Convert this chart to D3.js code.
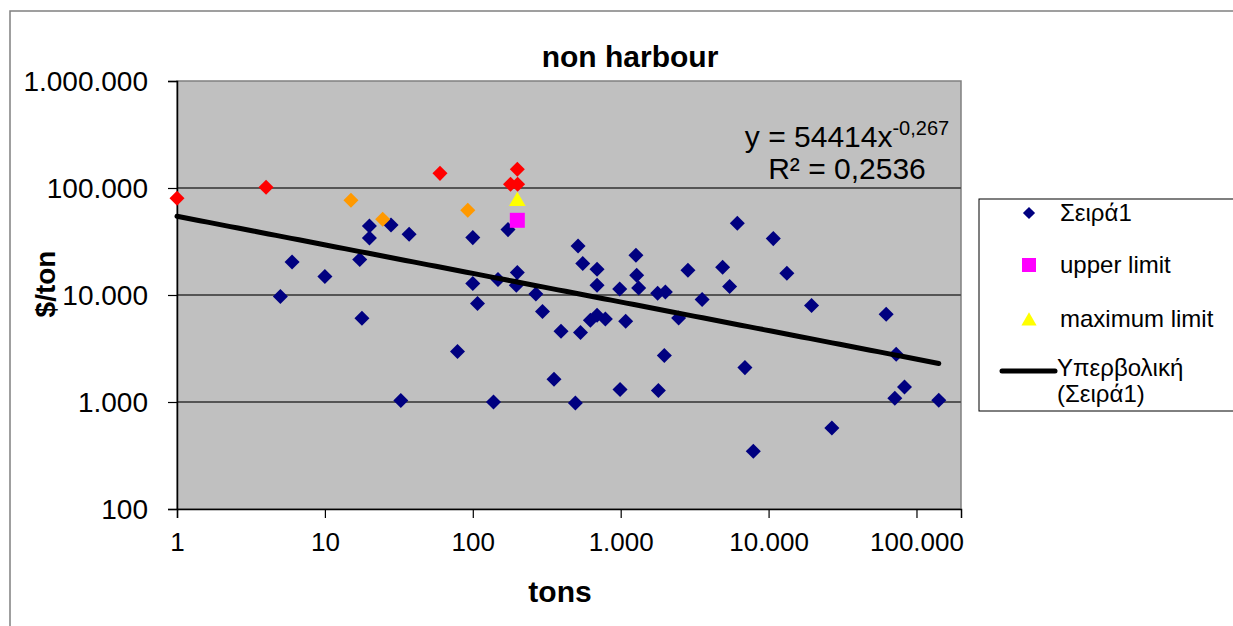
<!DOCTYPE html>
<html>
<head>
<meta charset="utf-8">
<script src="https://cdn.jsdelivr.net/npm/d3@7"></script>
<style>
  html, body { margin: 0; padding: 0; background: #fff; }
  svg { display: block; font-family: "Liberation Sans", Arial, sans-serif; }
</style>
</head>
<body>
<svg id="chart" width="1233" height="626"></svg>
<script>
// Σειρά1 – observed cost per ton against shipment size
const blueTons = [5, 6, 10, 17.2, 17.8, 20, 20, 28, 32.6, 37.1, 78.8, 100, 100, 107.6, 138, 148, 173, 200, 197, 267,
  296, 354, 395, 494, 515, 535, 554, 624, 692, 692, 692, 788, 985, 990, 1081, 1268, 1283, 1323, 1778, 1798,
  2005, 1973, 2465, 2850, 3554, 4890, 5452, 6146, 6918, 7882, 10760, 13290, 19520, 26780, 62380, 72930, 71360, 82990, 141500];
const bluePrice = [9660, 20330, 14860, 21420, 6058, 44160, 34100, 45100, 1031, 36900, 2958, 34380, 12790, 8310, 1000, 13930, 40840, 16200, 12320, 10220,
  6995, 1630, 4580, 979, 28700, 4452, 19660, 5800, 17380, 12320, 6460, 5966, 11380, 1306, 5680, 23500, 15280, 11630, 10370, 1278,
  10670, 2714, 6097, 17020, 9075, 18150, 11980, 46770, 2096, 346, 33650, 15950, 7960, 571, 6600, 2791, 1083, 1380, 1037];

// extra unlabelled series
const redTons = [1, 4, 60, 200, 180, 201];
const redPrice = [80200, 101500, 137000, 149600, 108300, 108300];
const orangeTons = [15, 24.6, 92.5];
const orangePrice = [76800, 51000, 61900];

// limits
const upperTons = [200];
const upperPrice = [49900];
const maxTons = [200];
const maxPrice = [75100];

// power trendline y = a·x^b fitted to Σειρά1
const trendCoef = 54414;
const trendExp = -0.267;
const trendR2 = "0,2536";

const xTicks = [1, 10, 100, 1000, 10000, 100000];
const yTicks = [100, 1000, 10000, 100000, 1000000];
const xDomain = [1, 200000];
const yDomain = [100, 1000000];

const legendLabels = ["Σειρά1", "upper limit", "maximum limit", "Υπερβολική", "(Σειρά1)"];

const svg = d3.select("#chart");
const plot = { left: 177, right: 961, top: 81, bottom: 509 };

const x = d3.scaleLog().domain(xDomain).range([plot.left, plot.right]);
const y = d3.scaleLog().domain(yDomain).range([plot.bottom, plot.top]);

const loc = d3.formatLocale({ decimal: ",", thousands: ".", grouping: [3], currency: ["", "$"] });
const fmt = loc.format(",d");

// chart frame
svg.append("rect").attr("x", 10).attr("y", 11).attr("width", 1240).attr("height", 640)
  .attr("fill", "#fff").attr("stroke", "#808080").attr("stroke-width", 1.5);

// plot background
svg.append("rect").attr("x", plot.left).attr("y", plot.top)
  .attr("width", plot.right - plot.left).attr("height", plot.bottom - plot.top)
  .attr("fill", "#c0c0c0").attr("stroke", "#808080").attr("stroke-width", 1.5);

// horizontal gridlines
svg.append("g").selectAll("line").data(yTicks.slice(1, -1)).join("line")
  .attr("x1", plot.left).attr("x2", plot.right)
  .attr("y1", d => y(d)).attr("y2", d => y(d))
  .attr("stroke", "#555").attr("stroke-width", 2);

// axes
const yAxis = d3.axisLeft(y).tickValues(yTicks).tickFormat(fmt).tickSize(9).tickPadding(20);
const xAxis = d3.axisBottom(x).tickValues(xTicks).tickFormat(fmt).tickSize(9).tickPadding(14);

const gy = svg.append("g").attr("transform", `translate(${plot.left},0)`).call(yAxis);
const gx = svg.append("g").attr("transform", `translate(0,${plot.bottom})`).call(xAxis);
[gy, gx].forEach(g => {
  g.select(".domain").attr("stroke", "#000").attr("stroke-width", 1.5);
  g.selectAll(".tick line").attr("stroke", "#000").attr("stroke-width", 1.2);
  g.selectAll("text").attr("fill", "#000").attr("font-family", "Liberation Sans, Arial, sans-serif");
});
gy.selectAll("text").attr("font-size", 28).attr("dy", "0.35em");
gx.selectAll("text").attr("font-size", 26).attr("dy", "0.72em");

// markers
const diamond = d3.symbol().type(d3.symbolDiamond2).size(144);
function drawDiamonds(tons, price, color) {
  svg.append("g").selectAll("path").data(d3.range(tons.length)).join("path")
    .attr("d", diamond)
    .attr("transform", i => `translate(${x(tons[i])},${y(price[i])})`)
    .attr("fill", color);
}
drawDiamonds(blueTons, bluePrice, "#000080");

// trendline
const tMax = d3.max(blueTons);
const trendPts = d3.range(0, 101).map(k => {
  const t = Math.pow(10, k / 100 * Math.log10(tMax));
  return [t, trendCoef * Math.pow(t, trendExp)];
});
svg.append("path").datum(trendPts)
  .attr("d", d3.line().x(d => x(d[0])).y(d => y(d[1])))
  .attr("fill", "none").attr("stroke", "#000").attr("stroke-width", 5).attr("stroke-linecap", "round");

drawDiamonds(redTons, redPrice, "#ff0000");
drawDiamonds(orangeTons, orangePrice, "#ff9900");

svg.append("g").selectAll("rect").data(d3.range(upperTons.length)).join("rect")
  .attr("x", i => x(upperTons[i]) - 7.5).attr("y", i => y(upperPrice[i]) - 7.5)
  .attr("width", 15).attr("height", 15).attr("fill", "#ff00ff");

const tri = d3.symbol().type(d3.symbolTriangle).size(120);
svg.append("g").selectAll("path").data(d3.range(maxTons.length)).join("path")
  .attr("d", tri)
  .attr("transform", i => `translate(${x(maxTons[i])},${y(maxPrice[i])})`)
  .attr("fill", "#ffff00");

// trendline equation
const eq = svg.append("text").attr("x", 847).attr("y", 147).attr("text-anchor", "middle")
  .attr("font-size", 30).attr("fill", "#000");
eq.append("tspan").text("y = " + trendCoef + "x");
eq.append("tspan").attr("font-size", 20).attr("dy", -12).text(String(trendExp).replace(".", ","));
svg.append("text").attr("x", 847).attr("y", 179).attr("text-anchor", "middle")
  .attr("font-size", 30).attr("fill", "#000").text("R² = " + trendR2);

// title and axis titles
svg.append("text").attr("x", 630).attr("y", 67).attr("text-anchor", "middle")
  .attr("font-size", 30).attr("font-weight", "bold").text("non harbour");
svg.append("text").attr("x", 560).attr("y", 602).attr("text-anchor", "middle")
  .attr("font-size", 30).attr("font-weight", "bold").text("tons");
svg.append("text").attr("transform", "translate(55,284) rotate(-90)").attr("text-anchor", "middle")
  .attr("font-size", 28).attr("font-weight", "bold").text("$/ton");

// legend
const lg = svg.append("g");
lg.append("rect").attr("x", 979).attr("y", 199).attr("width", 270).attr("height", 212)
  .attr("fill", "#fff").attr("stroke", "#000").attr("stroke-width", 1);
const lx = 1029, tx = 1060;
lg.append("path").attr("d", d3.symbol().type(d3.symbolDiamond2).size(95))
  .attr("transform", `translate(${lx},213)`).attr("fill", "#000080");
lg.append("rect").attr("x", lx - 7).attr("y", 258).attr("width", 14).attr("height", 14).attr("fill", "#ff00ff");
lg.append("path").attr("d", d3.symbol().type(d3.symbolTriangle).size(100))
  .attr("transform", `translate(${lx},321)`).attr("fill", "#ffff00");
lg.append("line").attr("x1", 1002).attr("x2", 1055).attr("y1", 371).attr("y2", 371)
  .attr("stroke", "#000").attr("stroke-width", 5).attr("stroke-linecap", "round");
const lys = [221, 273, 327, 376, 402];
lg.selectAll("text.lbl").data(legendLabels).join("text").attr("class", "lbl")
  .attr("x", (d, i) => i >= 3 ? 1057 : tx).attr("y", (d, i) => lys[i])
  .attr("font-size", 24).attr("fill", "#000").text(d => d);
</script>
</body>
</html>
